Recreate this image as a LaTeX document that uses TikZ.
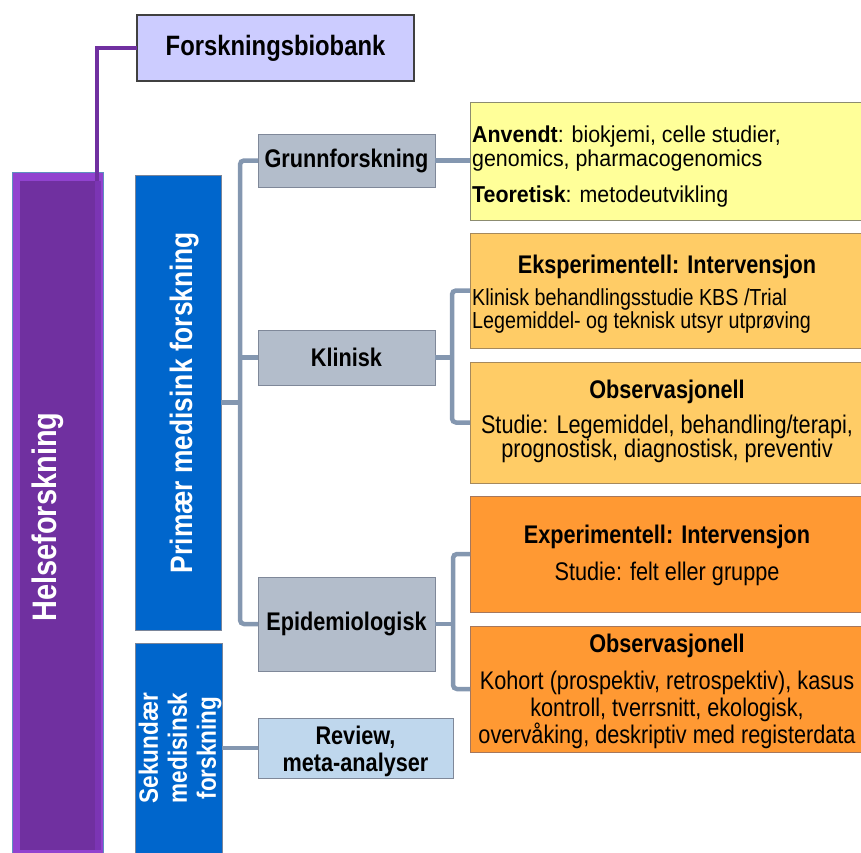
\documentclass[tikz,border=0pt]{standalone}
\usepackage{fontspec}
\setmainfont[FakeStretch=0.85]{Liberation Sans}
\newfontfamily\yfont[FakeStretch=0.93]{Liberation Sans}
\definecolor{purpleline}{HTML}{7030A0}
\definecolor{purpleinner}{HTML}{7030A0}
\definecolor{purpleouter}{HTML}{9142CF}
\definecolor{purplestrip}{HTML}{7B35B4}
\definecolor{helseborder}{HTML}{5E8FC0}
\definecolor{primblue}{HTML}{0066CC}
\definecolor{primborder}{HTML}{7A8599}
\definecolor{grayfill}{HTML}{B3BDCB}
\definecolor{grayline}{HTML}{7F8899}
\definecolor{reviewfill}{HTML}{BFD7ED}
\definecolor{biofill}{HTML}{CCCCFF}
\definecolor{bioline}{HTML}{404040}
\definecolor{yellowfill}{HTML}{FFFF99}
\definecolor{yellowline}{HTML}{8C8C70}
\definecolor{lorange}{HTML}{FFCC66}
\definecolor{lorangeline}{HTML}{A6895C}
\definecolor{dorange}{HTML}{FF9933}
\definecolor{dorangeline}{HTML}{A6775C}
\definecolor{connc}{HTML}{8497B0}
\begin{document}
\begin{tikzpicture}[x=1pt,y=-1pt,
  bx/.style={rectangle, inner sep=0pt, outer sep=0pt, anchor=north west, line width=1pt},
  graybox/.style={bx, fill=grayfill, draw=grayline, font=\fontsize{25.5}{27}\selectfont\bfseries},
  revbox/.style={bx, fill=reviewfill, draw=grayline},
  biobox/.style={bx, fill=biofill, draw=bioline, line width=1.2pt, font=\fontsize{28}{30}\selectfont\bfseries},
  ybox/.style={bx, fill=yellowfill, draw=yellowline},
  lobox/.style={bx, fill=lorange, draw=lorangeline},
  dobox/.style={bx, fill=dorange, draw=dorangeline},
  bluebox/.style={bx, fill=primblue, draw=primborder, line width=0.8pt},
  conn/.style={draw=connc, line width=4.5pt, rounded corners=4pt},
  hdr/.style={inner sep=0pt, anchor=base, font=\fontsize{25.5}{27}\selectfont\bfseries},
  bodyc/.style={inner sep=0pt, anchor=base, font=\fontsize{25.5}{27}\selectfont},
  bodyl/.style={inner sep=0pt, anchor=base west, font=\fontsize{23.2}{24}\selectfont},
  ytxt/.style={inner sep=0pt, anchor=base west, font=\yfont\fontsize{23}{24}\selectfont},
  vtxt/.style={rotate=90, inner sep=0pt, text=white}
]
\useasboundingbox (0,0) rectangle (861,852);

% Helseforskning column
\node[bx, fill=purpleouter, draw=helseborder, line width=0.8pt, minimum width=91, minimum height=682] (helse) at (12,172) {};
\node[bx, fill=purpleinner, line width=0pt, minimum width=75, minimum height=669] (helsein) at (20,181) {};
\node[bx, fill=purplestrip, line width=0pt, minimum width=6, minimum height=669] (helsestrip) at (95,181) {};
\node[vtxt, anchor=base, font=\fontsize{34}{36}\selectfont\bfseries] (helsetxt) at (56,517) {Helseforskning};

% Forskningsbiobank
\node[biobox, minimum width=277, minimum height=66] (bio) at (137,15) {Forskningsbiobank};
\coordinate (helsetop) at (97,181);
\draw[draw=purpleline, line width=4.7pt] (helsetop) |- (bio.west);

% Primaer / Sekundaer
\node[bluebox, minimum width=86, minimum height=455] (prim) at (135,175) {};
\node[vtxt, anchor=base, font=\fontsize{31}{33}\selectfont\bfseries] (primtxt) at (192,402.5) {Primær medisink forskning};
\node[bluebox, minimum width=87, minimum height=215] (sek) at (135,643) {};
\node[vtxt, anchor=center, align=center, font=\fontsize{26.5}{29}\selectfont\bfseries] (sektxt) at (180,748) {Sekundær\\medisinsk\\forskning};

% Second level
\node[graybox, minimum width=177, minimum height=53] (gf) at (258,134) {Grunnforskning};
\node[graybox, minimum width=177, minimum height=55] (kl) at (258,330) {Klinisk};
\node[graybox, minimum width=177, minimum height=94] (epi) at (258,577) {Epidemiologisk};
\node[revbox, minimum width=195, minimum height=60] (rev) at (258,718) {};
\node[hdr] (rev1) at (355.5,744) {Review,};
\node[hdr] (rev2) at (355.5,771) {meta-analyser};

% Right column boxes
\node[ybox, minimum width=395, minimum height=118] (yel) at (470,102) {};
\node[ytxt] (y1) at (472,142) {\textbf{Anvendt}: biokjemi, celle studier,};
\node[ytxt] (y2) at (472,166) {genomics, pharmacogenomics};
\node[ytxt] (y3) at (472,202) {\textbf{Teoretisk}: metodeutvikling};

\node[lobox, minimum width=395, minimum height=115] (ek) at (470,233) {};
\node[hdr] (ek1) at (667,273) {Eksperimentell: Intervensjon};
\node[bodyl] (ek2) at (472,305) {Klinisk behandlingsstudie KBS /Trial};
\node[bodyl] (ek3) at (472,328) {Legemiddel- og teknisk utsyr utprøving};

\node[lobox, minimum width=395, minimum height=121] (ob) at (470,362) {};
\node[hdr] (ob1) at (667,398) {Observasjonell};
\node[bodyc] (ob2) at (667,433) {Studie: Legemiddel, behandling/terapi,};
\node[bodyc] (ob3) at (667,457) {prognostisk, diagnostisk, preventiv};

\node[dobox, minimum width=395, minimum height=116] (eex) at (470,496) {};
\node[hdr] (eex1) at (667,543) {Experimentell: Intervensjon};
\node[bodyc] (eex2) at (667,580) {Studie: felt eller gruppe};

\node[dobox, minimum width=395, minimum height=126] (eob) at (470,626) {};
\node[hdr] (eob1) at (667,652) {Observasjonell};
\node[bodyc] (eob2) at (667,689) {Kohort (prospektiv, retrospektiv), kasus};
\node[bodyc] (eob3) at (667,716) {kontroll, tverrsnitt, ekologisk,};
\node[bodyc] (eob4) at (667,743) {overvåking, deskriptiv med registerdata};

% Connectors
\coordinate (trunk) at (240,402.5);
\draw[conn] (prim.east) -- (trunk);
\draw[conn] (gf.west) -| (trunk) |- (epi.west);
\draw[conn] (kl.west) -- (kl.west -| trunk);
\draw[conn] (gf.east) -- (yel.west |- gf.east);
\coordinate (klb) at (452,357.5);
\draw[conn] (kl.east) -- (klb);
\draw[conn] (ek.west) -| (klb) |- (ob.west);
\coordinate (epib) at (453,624);
\draw[conn] (epi.east) -- (epib);
\draw[conn] (eex.west) -| (epib) |- (eob.west);
\draw[conn] (sek.east |- rev.west) -- (rev.west);
\end{tikzpicture}
\end{document}
